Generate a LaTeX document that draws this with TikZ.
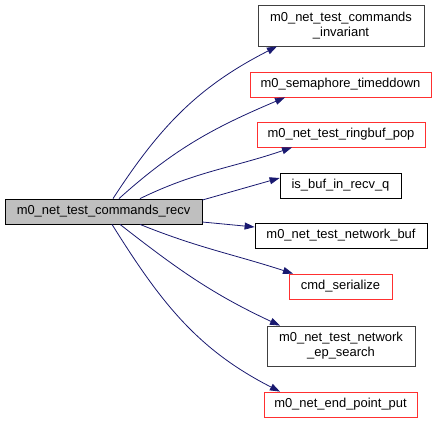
\documentclass[tikz,border=0pt]{standalone}
\usepackage{fontspec}
\setmainfont{Liberation Sans}
\usetikzlibrary{arrows.meta, positioning}
\definecolor{EdgeBlue}{HTML}{191970}
\definecolor{NodeGray}{HTML}{BFBFBF}
\definecolor{DarkGray}{HTML}{404040}
\definecolor{LinkRed}{HTML}{FF3030}

\begin{document}
\begin{tikzpicture}[x=1bp, y=-1bp,
    fn/.style={draw, line width=0.8bp, inner sep=0pt, align=center,
      font=\fontsize{13}{15}\selectfont, minimum height=25bp},
    edge/.style={draw=EdgeBlue, line width=0.8bp,
      -{Triangle[length=10bp, width=7bp]}, fill=none}]
        \useasboundingbox (0,0) rectangle (437,423);
        % Aufrufer
        \node[fn, fill=NodeGray, minimum width=197bp] (recv) at (103.5,211.5) {m0\_net\_test\_commands\_recv};
        % Aufgerufene Funktionen
        \node[fn, draw=DarkGray, minimum width=166bp, minimum height=41bp] (inv) at (341,25.5) {m0\_net\_test\_commands\\\_invariant};
        \node[fn, draw=LinkRed, minimum width=181bp] (sem) at (340.5,84.5) {m0\_semaphore\_timeddown};
        \node[fn, draw=LinkRed, minimum width=168bp] (pop) at (341,134.5) {m0\_net\_test\_ringbuf\_pop};
        \node[fn, minimum width=121bp] (isbuf) at (340.5,185.5) {is\_buf\_in\_recv\_q};
        \node[fn, minimum width=172bp] (netbuf) at (341,235.5) {m0\_net\_test\_network\_buf};
        \node[fn, draw=LinkRed, minimum width=103bp] (ser) at (340.5,286.5) {cmd\_serialize};
        \node[fn, draw=DarkGray, minimum width=148bp, minimum height=40bp] (epsearch) at (341,346) {m0\_net\_test\_network\\\_ep\_search};
        \node[fn, draw=LinkRed, minimum width=153bp] (epput) at (340.5,404.5) {m0\_net\_end\_point\_put};
        % Aufrufe
        \draw[edge] ([xshift=9.5bp]recv.north) to[out=57, in=207] ([xshift=-64bp]inv.south);
        \draw[edge] ([xshift=15.5bp]recv.north) to[out=42, in=203] ([xshift=-55.5bp]sem.south);
        \draw[edge] ([xshift=36.5bp]recv.north) to[out=26, in=199] ([xshift=-49bp]pop.south);
        \draw[edge] ([yshift=11.5bp]recv.east) -- ([yshift=7.5bp]isbuf.west);
        \draw[edge] ([yshift=-10.5bp]recv.east) -- ([yshift=8.5bp]netbuf.west);
        \draw[edge] ([xshift=36.5bp]recv.south) to[out=-22, in=162] ([xshift=-47.5bp]ser.north);
        \draw[edge] ([xshift=16.5bp]recv.south) to[out=-38, in=155] ([xshift=-61bp]epsearch.north);
        \draw[edge] ([xshift=8.5bp]recv.south) to[out=-58, in=153] ([xshift=-60.5bp]epput.north);
      \end{tikzpicture}
\end{document}
